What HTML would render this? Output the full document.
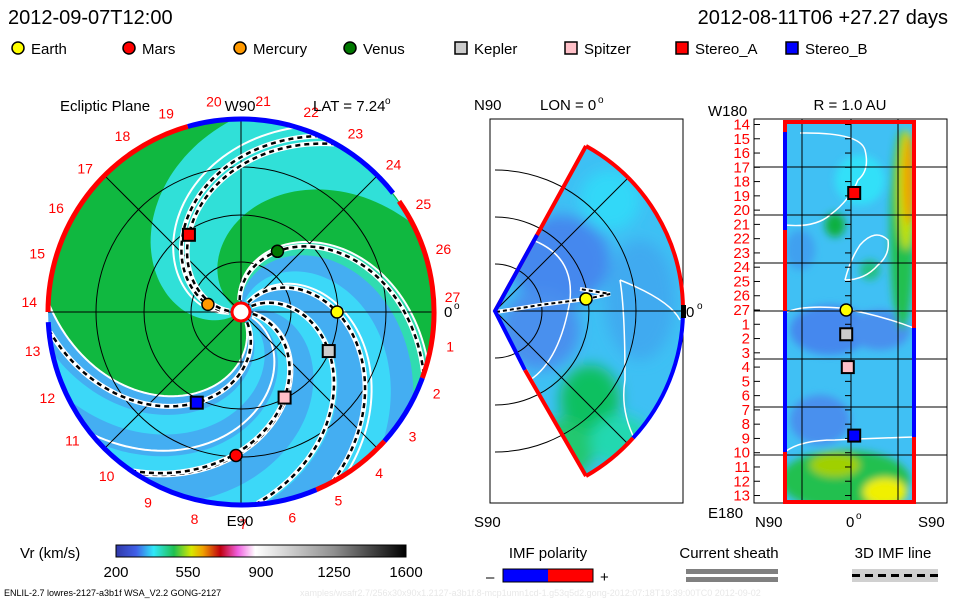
<!DOCTYPE html>
<html><head><meta charset="utf-8">
<style>
html,body{margin:0;padding:0;background:#fff;}
svg{display:block;font-family:"Liberation Sans",sans-serif;}
text{font-family:"Liberation Sans",sans-serif;}
</style></head>
<body>
<svg id="chart" width="960" height="600" viewBox="0 0 960 600" xmlns="http://www.w3.org/2000/svg">
<defs>
<filter id="blur6" x="-50%" y="-50%" width="200%" height="200%"><feGaussianBlur stdDeviation="7"/></filter>
<filter id="blur3" x="-50%" y="-50%" width="200%" height="200%"><feGaussianBlur stdDeviation="4"/></filter>
<clipPath id="clipCircle"><circle cx="241" cy="312" r="193"/></clipPath>
<clipPath id="clipWedge"><path d="M495,311 L586,146 A188,188 0 0,1 683,311 A188,188 0 0,1 586,476 Z"/></clipPath>
<clipPath id="clipRect"><rect x="785" y="122" width="129" height="380"/></clipPath>
<linearGradient id="cbar" x1="0" x2="1" y1="0" y2="0">
<stop offset="0" stop-color="#3038a8"/><stop offset="0.07" stop-color="#4060e8"/><stop offset="0.13" stop-color="#30e8f8"/>
<stop offset="0.2" stop-color="#20c050"/><stop offset="0.26" stop-color="#d8e800"/><stop offset="0.3" stop-color="#f0a000"/>
<stop offset="0.36" stop-color="#c00010"/><stop offset="0.42" stop-color="#f060e0"/><stop offset="0.48" stop-color="#ffffff"/>
<stop offset="0.75" stop-color="#909090"/><stop offset="1" stop-color="#000000"/>
</linearGradient>
</defs>

<text x="8" y="24" font-size="20">2012-09-07T12:00</text>
<text x="948" y="24" font-size="20" text-anchor="end">2012-08-11T06 +27.27 days</text>
<g id="legend"></g>

<g id="ecliptic"></g>
<g id="meridian"></g>
<g id="radial"></g>

<g>
<text x="20" y="558" font-size="15">Vr (km/s)</text>
<rect x="116" y="545" width="290" height="12" fill="url(#cbar)" stroke="#000" stroke-width="1"/>
<text x="116" y="577" font-size="15" text-anchor="middle">200</text>
<text x="188" y="577" font-size="15" text-anchor="middle">550</text>
<text x="261" y="577" font-size="15" text-anchor="middle">900</text>
<text x="334" y="577" font-size="15" text-anchor="middle">1250</text>
<text x="406" y="577" font-size="15" text-anchor="middle">1600</text>
</g>
<g>
<text x="548" y="558" font-size="15" text-anchor="middle">IMF polarity</text>
<text x="486" y="582" font-size="15">–</text>
<rect x="503" y="569" width="45" height="13" fill="#0000ff"/>
<rect x="548" y="569" width="45" height="13" fill="#ff0000"/>
<rect x="503" y="569" width="90" height="13" fill="none" stroke="#000"/>
<text x="600" y="582" font-size="15">+</text>
</g>
<g>
<text x="729" y="558" font-size="15" text-anchor="middle">Current sheath</text>
<rect x="686" y="569" width="92" height="5" fill="#808080"/>
<rect x="686" y="577" width="92" height="5" fill="#808080"/>
</g>
<g>
<text x="893" y="558" font-size="15" text-anchor="middle">3D IMF line</text>
<rect x="852" y="569" width="86" height="13" fill="#d0d0d0"/>
<line x1="852" y1="575.5" x2="938" y2="575.5" stroke="#000" stroke-width="3" stroke-dasharray="8,5"/>
</g>
<text x="4" y="596" font-size="9">ENLIL-2.7 lowres-2127-a3b1f WSA_V2.2 GONG-2127</text>
<text x="300" y="596" font-size="9" fill="#e8e8e8">xamples/wsafr2.7/256x30x90x1.2127-a3b1f.8-mcp1umn1cd-1.g53q5d2.gong-2012:07:18T19:39:00TC0   2012-09-02</text>

<script>
const NS="http://www.w3.org/2000/svg";
function mk(parent,tag,attrs){const e=document.createElementNS(NS,tag);for(const k in attrs)e.setAttribute(k,attrs[k]);parent.appendChild(e);return e;}

// ---------- Data ----------
const bodyNames=["Earth","Mars","Mercury","Venus","Kepler","Spitzer","Stereo_A","Stereo_B"];
const bodyColors=["#ffff00","#ff0000","#ff9900","#007700","#cccccc","#ffc0c8","#ff0000","#0000ff"];
const bodyShapes=["circle","circle","circle","circle","square","square","square","square"];
const bodyR=[0.99,1.48,0.35,0.73,0.99,0.99,0.96,1.04];
const bodyAng=[0,92,-167,-59,24,63,-124,116];
const radialRow=[26.0,null,null,null,27.7,30.0,17.8,34.8];
const radialLat=[-3,null,null,null,-3,-2,2,2];
const lonLabels=[14,15,16,17,18,19,20,21,22,23,24,25,26,27,1,2,3,4,5,6,7,8,9,10,11,12,13];
const rimLabels=[27,1,2,3,4,5,6,7,8,9,10,11,12,13,14,15,16,17,18,19,20,21,22,23,24,25,26];
const rimSegStart=[180,254,325,20,42,67];
const rimSegEnd=[254,322,380,42,67,177];
const rimSegColor=["#ff0000","#0000ff","#ff0000","#0000ff","#ff0000","#0000ff"];
const bandStart=[-300,-215,-108,-80,-40,0,30];
const bandEnd=[-108,-150,-96,-60,-20,14,45];
const bandColor=["#10b840","#30e0d8","#30dcb0","#3cd8f8","#3cd8f8","#3cd8f8","#3cd8f8"];
const sheetPhase=[-300,-196,-108,-66,18];

// ---------- Legend ----------
const lg=document.getElementById('legend');
const legX=[18,129,240,350,461,571,682,792];
bodyNames.forEach((n,i)=>{
  const x=legX[i];
  let m;
  if(bodyShapes[i]==="circle") m=mk(lg,'circle',{cx:x,cy:48,r:6,fill:bodyColors[i],stroke:'#000','stroke-width':1.5});
  else m=mk(lg,'rect',{x:x-6,y:42,width:12,height:12,fill:bodyColors[i],stroke:'#000','stroke-width':1.5});
  
  
  const t=mk(lg,'text',{x:x+13,y:54,'font-size':15});
  t.textContent=n;
  
  
});

// ---------- Ecliptic panel ----------
const E=document.getElementById('ecliptic');
const cx=241,cy=312,R=193,AU=97,K=90;
const rad=d=>d*Math.PI/180;
function spiralPts(phi0,r0,r1){const p=[];for(let r=r0;r<=r1+0.01;r+=3){const a=rad(phi0)+r/K;p.push([cx+r*Math.cos(a),cy+r*Math.sin(a)]);}return p;}
function endAng(phi0){return phi0+R/K*180/Math.PI;}
const cg=mk(E,'g',{'clip-path':'url(#clipCircle)'});
mk(cg,'circle',{cx:cx,cy:cy,r:R,fill:'#44aef2'});
bandStart.forEach((s,i)=>{
  const a=spiralPts(s,0,R),b=spiralPts(bandEnd[i],0,R).reverse();
  let d='M'+a.map(p=>p[0].toFixed(1)+','+p[1].toFixed(1)).join(' L');
  const ea=endAng(s),eb=endAng(bandEnd[i]);
  const large=(eb-ea)>180?1:0;
  d+=' A'+R+','+R+' 0 '+large+',1 '+b[0][0].toFixed(1)+','+b[0][1].toFixed(1);
  d+=' L'+b.map(p=>p[0].toFixed(1)+','+p[1].toFixed(1)).join(' L')+'Z';
  const el=mk(cg,'path',{d:d,fill:bandColor[i]});
  
  
});
sheetPhase.forEach(p=>{
  const pts=spiralPts(p,12,R);
  const el=mk(cg,'polyline',{points:pts.map(q=>q.join(',')).join(' '),fill:'none',stroke:'#fff','stroke-width':2});
  
  
});
[50,97,145].forEach(r=>mk(cg,'circle',{cx:cx,cy:cy,r:r,fill:'none',stroke:'#000','stroke-width':1}));
mk(cg,'line',{x1:cx-R,y1:cy,x2:cx+R,y2:cy,stroke:'#000'});
mk(cg,'line',{x1:cx,y1:cy-R,x2:cx,y2:cy+R,stroke:'#000'});
mk(cg,'line',{x1:cx-R*.707,y1:cy-R*.707,x2:cx+R*.707,y2:cy+R*.707,stroke:'#000'});
mk(cg,'line',{x1:cx-R*.707,y1:cy+R*.707,x2:cx+R*.707,y2:cy-R*.707,stroke:'#000'});
bodyR.forEach((r,i)=>{
  const rp=r*AU,ph=bodyAng[i]-rp/K*180/Math.PI;
  const pts=spiralPts(ph,12,R).map(q=>q.join(',')).join(' ');
  const w=mk(cg,'polyline',{points:pts,fill:'none',stroke:'#fff','stroke-width':5});
  
  
  mk(cg,'polyline',{points:pts,fill:'none',stroke:'#000','stroke-width':2.5,'stroke-dasharray':'5,4'});
});
rimSegStart.forEach((s,i)=>{
  const e=rimSegEnd[i];
  const x1=cx+R*Math.cos(rad(s)),y1=cy+R*Math.sin(rad(s)),x2=cx+R*Math.cos(rad(e)),y2=cy+R*Math.sin(rad(e));
  const el=mk(E,'path',{d:`M${x1},${y1} A${R},${R} 0 ${(e-s)>180?1:0},1 ${x2},${y2}`,fill:'none',stroke:rimSegColor[i],'stroke-width':5});
  
  
});
rimLabels.forEach((l,i)=>{
  const a=rad(-4+i*360/27);
  const t=mk(E,'text',{x:cx+212*Math.cos(a),y:cy+212*Math.sin(a)+5,'font-size':14,fill:'#ff0000','text-anchor':'middle'});
  t.textContent=l;
  
  
});
mk(E,'circle',{cx:cx,cy:cy,r:9,fill:'#fff',stroke:'#ff0000','stroke-width':3});
bodyR.forEach((r,i)=>{
  const x=cx+r*AU*Math.cos(rad(bodyAng[i])),y=cy+r*AU*Math.sin(rad(bodyAng[i]));
  let m;
  if(bodyShapes[i]==="circle") m=mk(E,'circle',{cx:x,cy:y,r:6,fill:bodyColors[i],stroke:'#000','stroke-width':1.5});
  else m=mk(E,'rect',{x:x-6,y:y-6,width:12,height:12,fill:bodyColors[i],stroke:'#000','stroke-width':2});
  
  
});
[["Ecliptic Plane",60,111,'start'],["W90",240,111,'middle'],["LAT = 7.24",313,111,'start'],["E90",240,526,'middle'],["0",444,317,'start']].forEach(a=>{
  const t=mk(E,'text',{x:a[1],y:a[2],'font-size':15,'text-anchor':a[3]});t.textContent=a[0];
  
  
});
mk(E,'text',{x:385,y:104,'font-size':10}).textContent='o';
mk(E,'text',{x:454,y:309,'font-size':10}).textContent='o';

// ---------- Meridional panel ----------
const M=document.getElementById('meridian');
const mx=495,my=311;
mk(M,'rect',{x:490,y:119,width:193,height:384,fill:'#fff',stroke:'#000'});
const wg=mk(M,'g',{'clip-path':'url(#clipWedge)'});
mk(wg,'rect',{x:480,y:130,width:220,height:360,fill:'#3ec0f4'});
const wb=mk(wg,'g',{filter:'url(#blur6)'});
[[560,260,50,45,'#4488ee'],[540,330,40,40,'#4a90ee'],[640,300,35,60,'#40aaf0'],[590,400,30,35,'#10c060'],[560,450,35,30,'#20c870'],[620,440,30,25,'#20d8b0'],[610,200,30,30,'#30d8f8'],[520,200,25,30,'#30e0f0']].forEach(b=>mk(wb,'ellipse',{cx:b[0],cy:b[1],rx:b[2],ry:b[3],fill:b[4]}));
[47,94,141].forEach(r=>mk(M,'path',{d:`M${mx},${my-r} A${r},${r} 0 0,1 ${mx},${my+r}`,fill:'none',stroke:'#000'}));
mk(M,'line',{x1:mx,y1:my,x2:683,y2:my,stroke:'#000'});
mk(M,'line',{x1:mx,y1:my,x2:mx+133,y2:my-133,stroke:'#000'});
mk(M,'line',{x1:mx,y1:my,x2:mx+133,y2:my+133,stroke:'#000'});
mk(wg,'path',{d:'M520,236 Q575,250 570,300 Q560,360 530,380 L500,385',fill:'none',stroke:'#fff','stroke-width':1.5});
mk(wg,'path',{d:'M620,280 Q670,300 680,320 M620,280 Q625,310 625,380 Q620,410 635,440',fill:'none',stroke:'#fff','stroke-width':1.5});
mk(M,'polyline',{points:'496,312 540,305 586,299 610,294 580,289',fill:'none',stroke:'#fff','stroke-width':4});
mk(M,'polyline',{points:'496,312 540,305 586,299 610,294 580,289',fill:'none',stroke:'#000','stroke-width':2,'stroke-dasharray':'4,3'});
mk(M,'path',{d:'M586,146 A188,188 0 0,1 683,308',fill:'none',stroke:'#ff0000','stroke-width':4});
mk(M,'path',{d:'M683,313 A188,188 0 0,1 633,438',fill:'none',stroke:'#0000ff','stroke-width':4});
mk(M,'path',{d:'M633,438 A188,188 0 0,1 586,476',fill:'none',stroke:'#ff0000','stroke-width':4});
mk(M,'polyline',{points:'586,146 537,235 495,311',fill:'none',stroke:'#ff0000','stroke-width':4});
mk(M,'polyline',{points:'537,235 495,311 525,370',fill:'none',stroke:'#0000ff','stroke-width':4});
mk(M,'line',{x1:525,y1:370,x2:586,y2:476,stroke:'#ff0000','stroke-width':4});
mk(M,'rect',{x:681,y:305,width:5,height:13,fill:'#000'});
mk(M,'circle',{cx:586,cy:299,r:6,fill:'#ffff00',stroke:'#000','stroke-width':1.5});
[["N90",474,110],["LON = 0",540,110],["0",686,317],["S90",474,527]].forEach(a=>{
  const t=mk(M,'text',{x:a[1],y:a[2],'font-size':15});t.textContent=a[0];
  
  
});
mk(M,'text',{x:598,y:103,'font-size':10}).textContent='o';
mk(M,'text',{x:697,y:309,'font-size':10}).textContent='o';

// ---------- Radial (R=1 AU) panel ----------
const Rd=document.getElementById('radial');
const rowY=i=>124.5+i*14.27;
mk(Rd,'rect',{x:754,y:119,width:193,height:384,fill:'#fff',stroke:'#000'});
const rg=mk(Rd,'g',{'clip-path':'url(#clipRect)'});
mk(rg,'rect',{x:785,y:122,width:129,height:380,fill:'#40c0f4'});
const rb=mk(rg,'g',{filter:'url(#blur3)'});
[[830,330,40,25,'#4488ee'],[820,420,30,25,'#4a90ee'],[880,330,30,20,'#4a90ee'],[800,250,15,20,'#40a0f0'],[860,180,25,25,'#30e0f8'],
 [902,230,12,100,'#20c050'],[906,190,9,60,'#c0e000'],[909,180,6,45,'#f0a000'],
 [845,480,65,30,'#20c050'],[835,465,25,12,'#a0d000'],[885,492,22,14,'#f0f000'],[835,225,10,12,'#10b040'],[870,270,10,10,'#20c080']].forEach(b=>mk(rb,'ellipse',{cx:b[0],cy:b[1],rx:b[2],ry:b[3],fill:b[4]}));
mk(rg,'path',{d:'M785,225 Q815,228 830,215 Q850,200 858,180 Q870,170 865,150 Q860,132 800,133',fill:'none',stroke:'#fff','stroke-width':1.5});
mk(rg,'path',{d:'M845,280 Q850,260 860,245 Q875,228 888,240 Q890,255 878,265 Q865,280 845,280',fill:'none',stroke:'#fff','stroke-width':1.5});
mk(rg,'path',{d:'M785,313 Q800,305 840,308 Q880,315 914,328',fill:'none',stroke:'#fff','stroke-width':1.5});
mk(rg,'path',{d:'M785,452 Q800,440 835,440 Q880,438 914,437',fill:'none',stroke:'#fff','stroke-width':1.5});
[167,215,263,311,359,407,455].forEach(y=>mk(Rd,'line',{x1:754,y1:y,x2:947,y2:y,stroke:'#000'}));
[802,851,898].forEach(x=>mk(Rd,'line',{x1:x,y1:119,x2:x,y2:503,stroke:'#000'}));
lonLabels.forEach((l,i)=>{
  mk(Rd,'line',{x1:754,y1:rowY(i),x2:760,y2:rowY(i),stroke:'#000'});
  mk(Rd,'line',{x1:845,y1:rowY(i),x2:851,y2:rowY(i),stroke:'#000'});
  const t=mk(Rd,'text',{x:750,y:rowY(i)+5,'font-size':15,fill:'#ff0000','text-anchor':'end'});
  t.textContent=l;
  
  
});
mk(Rd,'rect',{x:785,y:122,width:129,height:380,fill:'none',stroke:'#ff0000','stroke-width':4});
mk(Rd,'line',{x1:785,y1:132,x2:785,y2:230,stroke:'#0000ff','stroke-width':4});
mk(Rd,'line',{x1:785,y1:311,x2:785,y2:452,stroke:'#0000ff','stroke-width':4});
mk(Rd,'line',{x1:914,y1:328,x2:914,y2:437,stroke:'#0000ff','stroke-width':4});
bodyNames.forEach((n,i)=>{
  if(radialRow[i]===null) return;
  const yy=124.5+(radialRow[i]-13)*14.27;
  const x=851+radialLat[i]*1.6;
  let m;
  if(bodyShapes[i]==="circle") m=mk(Rd,'circle',{cx:x,cy:yy,r:6,fill:bodyColors[i],stroke:'#000','stroke-width':1.5});
  else m=mk(Rd,'rect',{x:x-6,y:yy-6,width:12,height:12,fill:bodyColors[i],stroke:'#000','stroke-width':2});
  
  
});
[["W180",708,116,'start'],["R = 1.0 AU",850,110,'middle'],["E180",708,518,'start'],["N90",755,527,'start'],["0",846,527,'start'],["S90",918,527,'start']].forEach(a=>{
  const t=mk(Rd,'text',{x:a[1],y:a[2],'font-size':15,'text-anchor':a[3]});t.textContent=a[0];
  
  
});
mk(Rd,'text',{x:856,y:519,'font-size':10}).textContent='o';
</script>
</svg>
</body></html>
